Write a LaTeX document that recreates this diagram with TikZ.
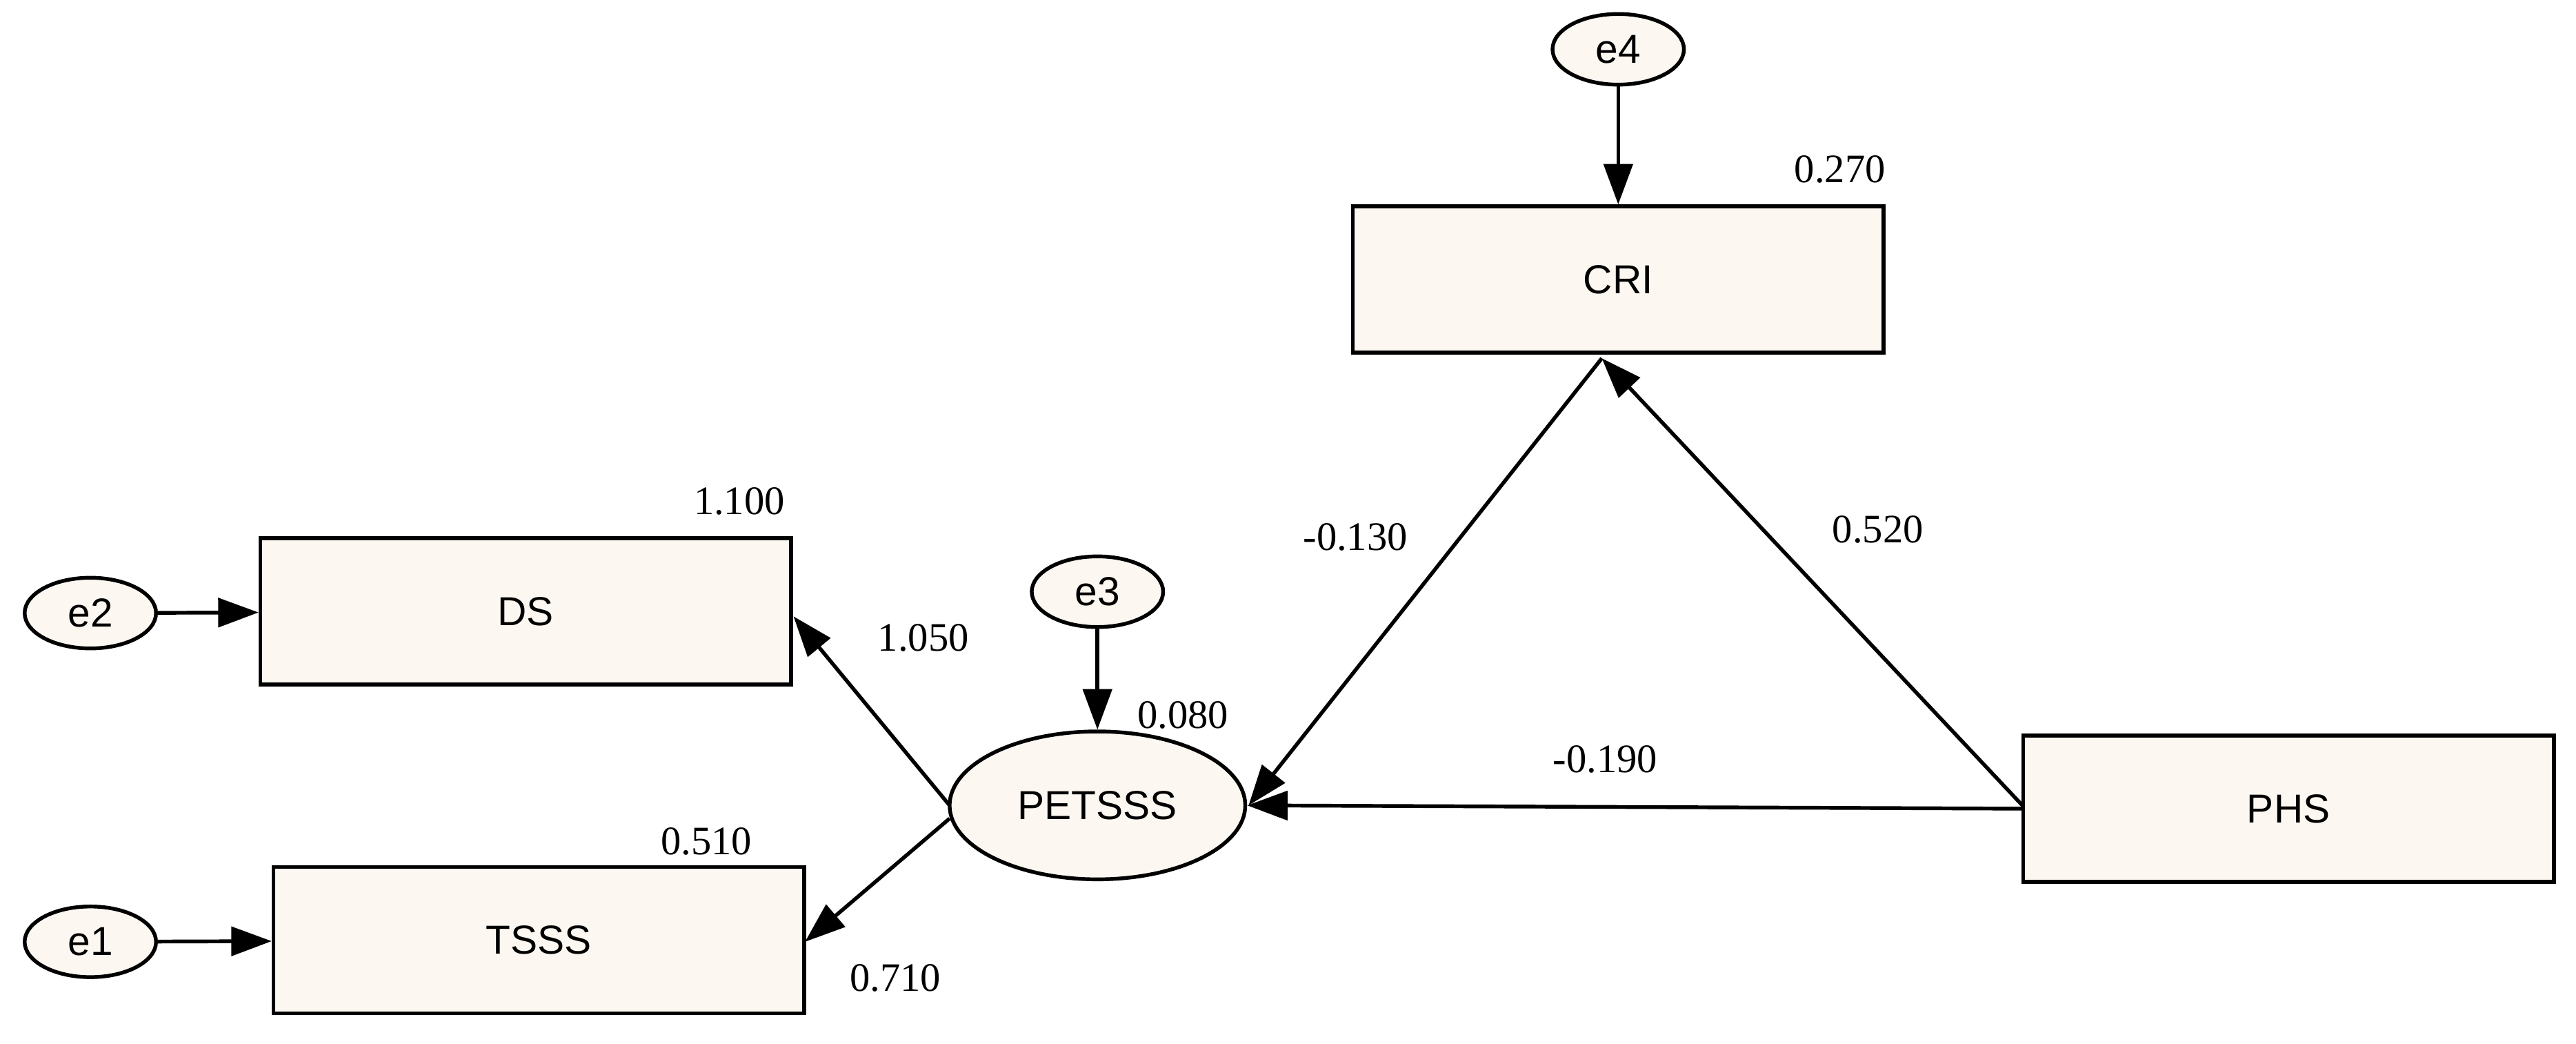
\documentclass[tikz,border=0pt]{standalone}
\usepackage{fontspec}
\setmainfont{Liberation Serif}
\newfontfamily\sansf{Liberation Sans}
\usetikzlibrary{shapes.geometric,arrows.meta}
\definecolor{cream}{HTML}{FCF8F1}
\begin{document}
\begin{tikzpicture}[x=0.02cm,y=-0.02cm,
 box/.style={draw,line width=1.3pt,fill=cream,minimum width=6.46cm,minimum height=1.78cm,font=\sansf\fontsize{14}{16}\selectfont},
 err/.style={draw,ellipse,line width=1.3pt,fill=cream,minimum width=1.6cm,minimum height=0.86cm,inner sep=0pt,font=\sansf\fontsize{14}{16}\selectfont},
 arr/.style={line width=1.3pt,-{Triangle[length=14pt,width=10pt]}},
 lab/.style={font=\fontsize{14}{16}\selectfont}]
\useasboundingbox (0,0) rectangle (1568,635);
\node[box] (cri) at (985,170) {CRI};
\node[box] (ds) at (320,372) {DS};
\node[box] (tsss) at (328,572) {TSSS};
\node[box] (phs) at (1393,492) {PHS};
\node[err] (e4) at (985,30) {e4};
\node[err] (e2) at (55,373) {e2};
\node[err] (e3) at (668,360) {e3};
\node[err] (e1) at (55,573) {e1};
\node[draw,ellipse,line width=1.3pt,fill=cream,minimum width=3.6cm,minimum height=1.8cm,inner sep=0pt,font=\sansf\fontsize{14}{16}\selectfont] (pet) at (668,490) {PETSSS};
\draw[arr] (e4) -- (cri);
\draw[arr] (e2) -- (ds);
\draw[arr] (e1) -- (tsss);
\draw[arr] (e3) -- (pet);
\coordinate (p1) at (578,490);
\coordinate (p2) at (578,498);
\coordinate (d1) at (483,375);
\coordinate (t1) at (490,573);
\coordinate (c1) at (975,218);
\coordinate (h1) at (1231,490);
\coordinate (h2) at (1231,492);
\draw[arr] (p1) -- (d1);
\draw[arr] (p2) -- (t1);
\draw[arr] (c1) -- (760,490);
\draw[arr] (h1) -- (c1);
\draw[arr] (h2) -- (pet.east);
\node[lab] at (1120,103) {0.270};
\node[lab] at (450,305) {1.100};
\node[lab] at (720,435) {0.080};
\node[lab] at (430,512) {0.510};
\node[lab] at (545,595) {0.710};
\node[lab] at (825,327) {-0.130};
\node[lab] at (1143,322) {0.520};
\node[lab] at (977,462) {-0.190};
\node[lab] at (562,388) {1.050};
\end{tikzpicture}
\end{document}
